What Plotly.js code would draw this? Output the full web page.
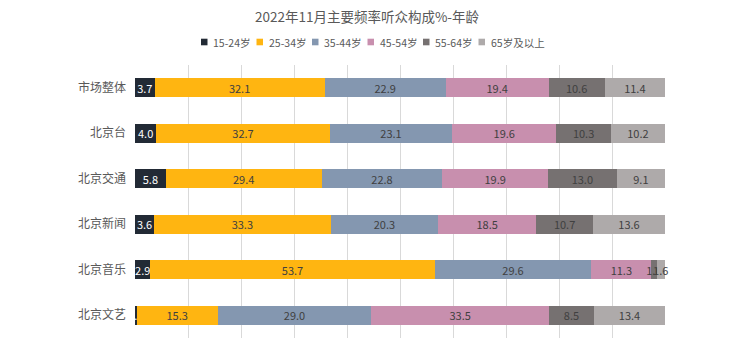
<!DOCTYPE html>
<html>
<head>
<meta charset="utf-8">
<script src="https://cdn.plot.ly/plotly-3.0.1.min.js"></script>
<style>html,body{margin:0;padding:0;background:#fff;}#chart{width:734px;height:352px;}</style>
</head>
<body>
<div id="chart"></div>
<script>
const categories = ["市场整体", "北京台", "北京交通", "北京新闻", "北京音乐", "北京文艺"];
const seriesNames = ["15-24岁", "25-34岁", "35-44岁", "45-54岁", "55-64岁", "65岁及以上"];
const age15_24 = [3.7, 4.0, 5.8, 3.6, 2.9, 0.3];
const age25_34 = [32.1, 32.7, 29.4, 33.3, 53.7, 15.3];
const age35_44 = [22.9, 23.1, 22.8, 20.3, 29.6, 29.0];
const age45_54 = [19.4, 19.6, 19.9, 18.5, 11.3, 33.5];
const age55_64 = [10.6, 10.3, 13.0, 10.7, 1.0, 8.5];
const age65plus = [11.4, 10.2, 9.1, 13.6, 1.6, 13.4];

const seriesValues = [age15_24, age25_34, age35_44, age45_54, age55_64, age65plus];
const colors = ["#222a35", "#ffb511", "#8497b0", "#c88fae", "#767171", "#aeaaaa"];
const textColors = ["#ffffff", "#404040", "#404040", "#404040", "#404040", "#404040"];

const font = "Noto Sans CJK SC, Noto Sans, sans-serif";

const traces = seriesValues.map((vals, i) => ({
  type: "bar",
  orientation: "h",
  name: seriesNames[i],
  y: categories,
  x: vals,
  marker: {color: colors[i]},
  text: vals.map(v => v.toFixed(1)),
  texttemplate: "%{text}",
  textposition: "inside",
  insidetextanchor: "middle",
  textangle: 0,
  insidetextfont: {color: textColors[i], size: 11, family: font},
  hoverinfo: "none",
  cliponaxis: false,
  showlegend: false
}));

// Compact legend (symbol + label), laid out like the reference
const legendStartX = 201, legendStep = 55.5, legendY = 42;
const shapes = [], annotations = [];
seriesNames.forEach((name, i) => {
  const x0 = legendStartX + i * legendStep;
  shapes.push({
    type: "rect", xref: "paper", yref: "paper", layer: "above",
    x0: (x0 - 135) / 530, x1: (x0 + 6.5 - 135) / 530,
    y0: (338 - (legendY + 3.3)) / 273, y1: (338 - (legendY - 3.3)) / 273,
    fillcolor: colors[i], line: {width: 0}
  });
  annotations.push({
    xref: "paper", yref: "paper", showarrow: false,
    x: (x0 + 10 - 135) / 530, xanchor: "left",
    y: (338 - legendY) / 273, yanchor: "middle",
    text: name,
    font: {size: 10.5, color: "#595959", family: font}
  });
});

const layout = {
  width: 734,
  height: 352,
  barmode: "stack",
  barnorm: "percent",
  bargap: 0.58,
  margin: {l: 135, r: 69, t: 65, b: 14},
  paper_bgcolor: "#ffffff",
  plot_bgcolor: "#ffffff",
  font: {family: font, color: "#595959", size: 12},
  uniformtext: {mode: "show", minsize: 11},
  showlegend: false,
  shapes: shapes,
  annotations: annotations,
  title: {
    text: "2022年11月主要频率听众构成%-年龄",
    font: {size: 13.5, color: "#595959", family: font},
    x: 0.5, xref: "container", xanchor: "center",
    y: 1 - 17/352, yref: "container", yanchor: "middle"
  },
  xaxis: {
    range: [0, 100],
    dtick: 10,
    showticklabels: false,
    showgrid: true,
    gridcolor: "#d9d9d9",
    zeroline: false,
    showline: false,
    fixedrange: true
  },
  yaxis: {
    autorange: "reversed",
    showgrid: false,
    zeroline: false,
    showline: false,
    ticks: "",
    ticklabelstandoff: 8,
    tickfont: {size: 12, color: "#595959", family: font},
    fixedrange: true
  }
};

Plotly.newPlot("chart", traces, layout, {displayModeBar: false, staticPlot: true});
</script>
</body>
</html>
